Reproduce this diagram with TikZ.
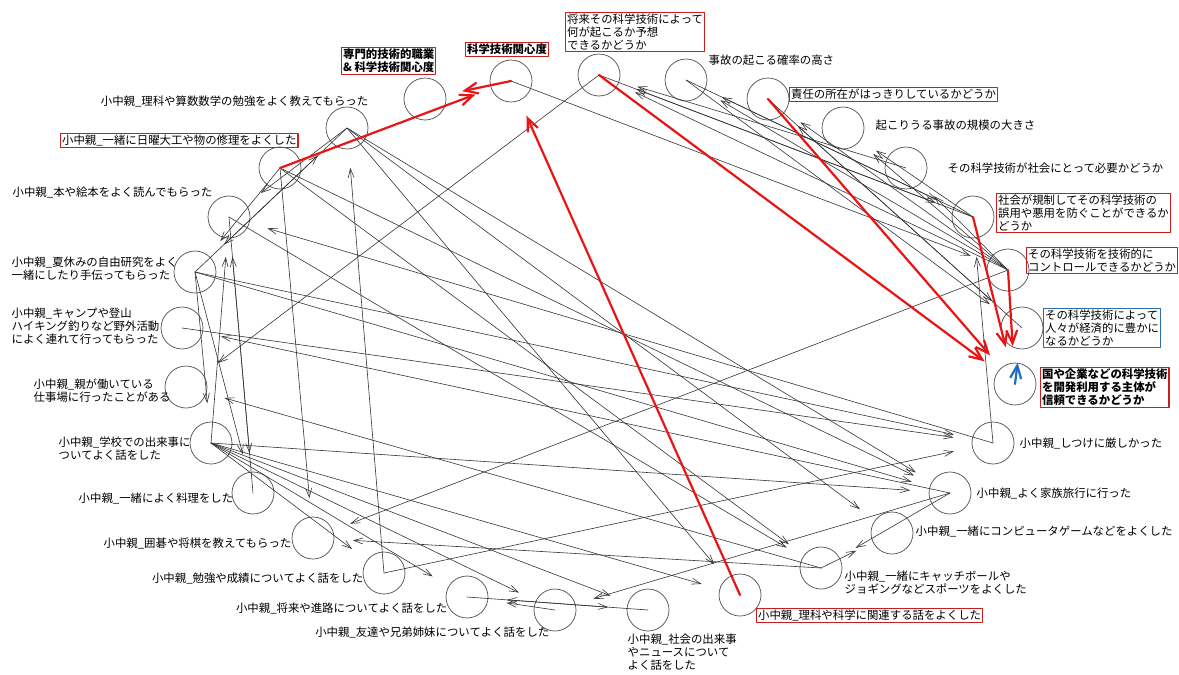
\documentclass[tikz,border=0pt]{standalone}
\usepackage{fontspec}
\setmainfont{Noto Sans CJK JP}
\usetikzlibrary{arrows.meta}
\definecolor{edgered}{RGB}{235,20,20}
\definecolor{edgeblue}{RGB}{30,110,190}
\definecolor{boxred}{RGB}{200,30,30}
\definecolor{boxblue}{RGB}{45,110,170}

\begin{document}
\begin{tikzpicture}[x=1pt,y=-1pt,line cap=round,line join=round,
  vert/.style={circle,draw=black!70,line width=0.7pt,minimum size=42pt,inner sep=0pt},
  lbl/.style={font=\fontsize{11.4}{13}\selectfont,inner sep=1.5pt,align=left,text=black},
  redbox/.style={lbl,draw=boxred,line width=1.2pt},
  bluebox/.style={lbl,draw=boxblue,line width=1.2pt},
  edge/.style={draw=black!80,line width=0.6pt,-{Straight Barb[length=9pt,width=6pt]},shorten >=40pt},
  redge/.style={draw=edgered,line width=2.2pt,-{Straight Barb[length=13pt,width=11pt]},shorten >=38pt}]
  \useasboundingbox (0,0) rectangle (1179,675);
  \node[vert] (senmon) at (425,99) {};
  \node[vert] (kanshin) at (511,81) {};
  \node[vert] (shorai) at (599,75) {};
  \node[vert] (kakuritsu) at (686,80) {};
  \node[vert] (sekinin) at (768,99) {};
  \node[vert] (kibo) at (843,128) {};
  \node[vert] (hitsuyo) at (906,168) {};
  \node[vert] (kisei) at (973,217) {};
  \node[vert] (control) at (1008,270) {};
  \node[vert] (keizai) at (1022,328) {};
  \node[vert] (shutai) at (1015,384) {};
  \node[vert] (shitsuke) at (993,443) {};
  \node[vert] (ryoko) at (950,493) {};
  \node[vert] (game) at (892,533) {};
  \node[vert] (sports) at (821,568) {};
  \node[vert] (rikawa) at (740,595) {};
  \node[vert] (shakai) at (648,610) {};
  \node[vert] (tomo) at (555,610) {};
  \node[vert] (shinro) at (467,597) {};
  \node[vert] (benkyo) at (384,573) {};
  \node[vert] (igo) at (313,538) {};
  \node[vert] (ryori) at (253,493) {};
  \node[vert] (gakko) at (211,443) {};
  \node[vert] (shigoto) at (186,387) {};
  \node[vert] (camp) at (182,328) {};
  \node[vert] (natsu) at (195,272) {};
  \node[vert] (hon) at (229,217) {};
  \node[vert] (nichiyo) at (280,168) {};
  \node[vert] (sansu) at (347,128) {};

  \node[redbox,anchor=north west,align=center,font=\fontsize{11.4}{13}\selectfont\bfseries] (t-senmon) at (341,47) {専門的技術的職業\\\& 科学技術関心度};
  \node[redbox,anchor=north west,font=\fontsize{11.4}{13}\selectfont\bfseries] (t-kanshin) at (465,42) {科学技術関心度};
  \node[redbox,anchor=north west] (t-shorai) at (565,12) {将来その科学技術によって\\何が起こるか予想\\できるかどうか};
  \node[lbl,anchor=west] (t-kakuritsu) at (707,60) {事故の起こる確率の高さ};
  \node[redbox,anchor=north west] (t-sekinin) at (789,87) {責任の所在がはっきりしているかどうか};
  \node[lbl,anchor=west] (t-kibo) at (874,125) {起こりうる事故の規模の大きさ};
  \node[lbl,anchor=west] (t-hitsuyo) at (946,168) {その科学技術が社会にとって必要かどうか};
  \node[redbox,anchor=north west] (t-kisei) at (996,193) {社会が規制してその科学技術の\\誤用や悪用を防ぐことができるか\\どうか};
  \node[redbox,anchor=north west] (t-control) at (1026,247) {その科学技術を技術的に\\コントロールできるかどうか};
  \node[bluebox,anchor=north west] (t-keizai) at (1043,308) {その科学技術によって\\人々が経済的に豊かに\\なるかどうか};
  \node[redbox,anchor=north west,font=\fontsize{11.4}{13}\selectfont\bfseries] (t-shutai) at (1040,367) {国や企業などの科学技術\\を開発利用する主体が\\信頼できるかどうか};
  \node[lbl,anchor=west] (t-shitsuke) at (1018,443) {小中親\_しつけに厳しかった};
  \node[lbl,anchor=west] (t-ryoko) at (975,493) {小中親\_よく家族旅行に行った};
  \node[lbl,anchor=west] (t-game) at (914,532) {小中親\_一緒にコンピュータゲームなどをよくした};
  \node[lbl,anchor=north west] (t-sports) at (843,569) {小中親\_一緒にキャッチボールや\\ジョギングなどスポーツをよくした};
  \node[redbox,anchor=north west] (t-rikawa) at (756,608) {小中親\_理科や科学に関連する話をよくした};
  \node[lbl,anchor=north west] (t-shakai) at (626,632) {小中親\_社会の出来事\\やニュースについて\\よく話をした};
  \node[lbl,anchor=east] (t-tomo) at (551,632) {小中親\_友達や兄弟姉妹についてよく話をした};
  \node[lbl,anchor=east] (t-shinro) at (449,608) {小中親\_将来や進路についてよく話をした};
  \node[lbl,anchor=east] (t-benkyo) at (365,578) {小中親\_勉強や成績についてよく話をした};
  \node[lbl,anchor=east] (t-igo) at (293,543) {小中親\_囲碁や将棋を教えてもらった};
  \node[lbl,anchor=east] (t-ryori) at (235,499) {小中親\_一緒によく料理をした};
  \node[lbl,anchor=north west] (t-gakko) at (57,435) {小中親\_学校での出来事に\\ついてよく話をした};
  \node[lbl,anchor=north west] (t-shigoto) at (32,377) {小中親\_親が働いている\\仕事場に行ったことがある};
  \node[lbl,anchor=north west] (t-camp) at (10,306) {小中親\_キャンプや登山\\ハイキング釣りなど野外活動\\によく連れて行ってもらった};
  \node[lbl,anchor=north west] (t-natsu) at (10,255) {小中親\_夏休みの自由研究をよく\\一緒にしたり手伝ってもらった};
  \node[lbl,anchor=east] (t-hon) at (214,193) {小中親\_本や絵本をよく読んでもらった};
  \node[redbox,anchor=north west] (t-nichiyo) at (60,133) {小中親\_一緒に日曜大工や物の修理をよくした};
  \node[lbl,anchor=east] (t-sansu) at (370,101) {小中親\_理科や算数数学の勉強をよく教えてもらった};

  \foreach \s/\t in {kisei/shorai,control/shorai,hitsuyo/shorai,kisei/kakuritsu,control/kakuritsu,
    control/sekinin,keizai/sekinin,kisei/kibo,control/kibo,control/hitsuyo,shorai/kisei,kakuritsu/kisei,
    shitsuke/kisei,kanshin/control,kakuritsu/keizai,sekinin/keizai,shitsuke/hon,control/igo,
    shorai/shigoto,sansu/game,sansu/ryoko,sansu/rikawa,sansu/hon,sansu/natsu,nichiyo/natsu,nichiyo/igo,
    nichiyo/ryoko,nichiyo/sports,hon/sports,hon/ryori,natsu/ryori,natsu/gakko,natsu/sansu,natsu/ryoko,
    natsu/shitsuke,camp/shitsuke,ryoko/camp,sports/shigoto,sports/igo,sports/game,ryoko/sports,
    ryoko/tomo,benkyo/sansu,benkyo/shitsuke,gakko/benkyo,gakko/shinro,gakko/tomo,gakko/shakai,
    gakko/rikawa,gakko/ryoko,gakko/hon,ryori/hon,shakai/shinro,tomo/shinro,shinro/shakai}
    \draw[edge] (\s.center) -- (\t.center);
  \foreach \s/\t in {nichiyo/kanshin,kanshin/senmon,rikawa/kanshin,shorai/shutai,sekinin/shutai,
    kisei/shutai,control/shutai}
    \draw[redge] (\s.center) -- (\t.center);
  \draw[redge,draw=edgeblue,shorten >=35pt] (shutai.center) -- (keizai.center);
\end{tikzpicture}
\end{document}
